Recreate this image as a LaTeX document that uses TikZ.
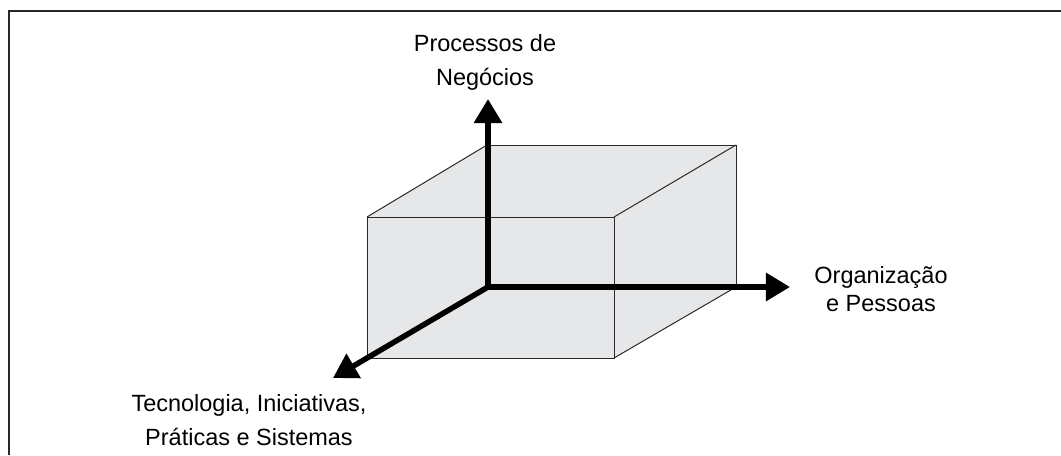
\documentclass[tikz,border=0pt]{standalone}
\usepackage{fontspec}
\setmainfont{Liberation Sans}
\usepackage{xcolor}
\usetikzlibrary{arrows.meta}
\definecolor{boxgray}{RGB}{230,231,233}
\definecolor{edgegray}{RGB}{40,40,40}

\begin{document}
\begin{tikzpicture}[x=0.025cm, y=-0.025cm]
	\useasboundingbox (0, 0) rectangle (1061, 455);
	\tikzset{
		edge/.style={line width=0.7pt, edgegray},
		axis/.style={line width=3.9pt, black, -{Triangle[length=0.6cm, width=0.68cm]}},
		lbl/.style={font=\fontsize{16.7}{21.3}\selectfont, align=center, inner sep=0pt, anchor=north}
	}

	% frame
	\draw[line width=1pt, edgegray] (9, 455) -- (9, 11) -- (1061, 11);

	% cube
	\fill[boxgray] (367, 217) -- (487, 145) -- (736, 145) -- (736, 287) -- (614, 358) -- (367, 358) -- cycle;
	\draw[edge] (487, 145) rectangle (736, 287);
	\draw[edge] (367, 217) rectangle (614, 358);
	\draw[edge] (367, 217) -- (487, 145);
	\draw[edge] (614, 217) -- (736, 145);
	\draw[edge] (614, 358) -- (736, 287);
	\draw[edge] (367, 358) -- (487, 287);

	% axes
	\coordinate (origin) at (488, 287);
	\coordinate (tipproc) at (488, 99);
	\coordinate (tiporg) at (790, 287);
	\coordinate (tiptec) at (333, 378);
	\draw[axis, line cap=rect] (origin) -- (tipproc);
	\draw[axis] (origin) -- (tiporg);
	\draw[axis] (origin) -- (tiptec);

	% labels
	\node[lbl] (proc) at (485, 34) {Processos de\\[3pt]Negócios};
	\node[lbl] (org) at (881, 266) {Organização\\[-1.5pt]e Pessoas};
	\node[lbl] (tec) at (249, 394) {Tecnologia, Iniciativas,\\[3pt]Práticas e Sistemas};
\end{tikzpicture}
\end{document}
